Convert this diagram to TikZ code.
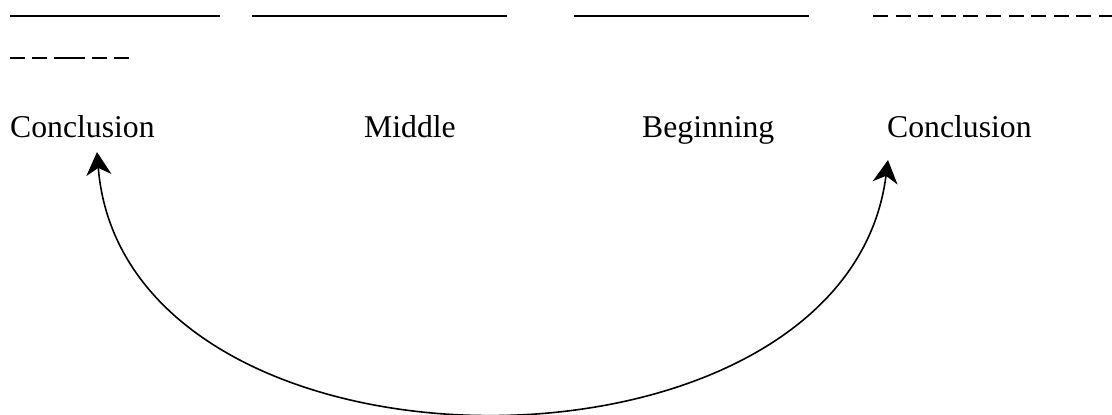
\documentclass[tikz,border=0pt]{standalone}
\usepackage{fontspec}
\setmainfont{Liberation Serif}
\usetikzlibrary{arrows.meta}

\tikzset{
  rule/.style={line width=1.5pt, black},
  label/.style={inner sep=0pt, anchor=base west, font=\fontsize{31.7}{38}\selectfont},
  loop arrow/.style={line width=1.6pt, black,
    {Stealth[length=23pt, width=25pt, inset=7pt]}-{Stealth[length=23pt, width=25pt, inset=7pt]}},
}

\begin{document}
\begin{tikzpicture}[x=1pt, y=-1pt]
  \useasboundingbox (0,0) rectangle (1112,415);

  % blank rules along the top
  \draw[rule] (10,16) -- (220,16);
  \draw[rule] (252,16) -- (507,16);
  \draw[rule] (574,16) -- (809,16);
  \draw[rule, dash pattern=on 15pt off 7.6pt] (873,16) -- (1116,16);
  \draw[rule, dash pattern=on 15pt off 7pt on 15pt off 7pt on 31pt off 7pt on 15pt off 7pt on 15pt off 7pt]
    (10,58) -- (130,58);

  % sequence labels
  \node[label] (concL) at (10,137) {Conclusion};
  \node[label] (mid)   at (364,137) {Middle};
  \node[label] (beg)   at (642,137) {Beginning};
  \node[label] (concR) at (887,137) {Conclusion};

  % loop joining both conclusions
  \coordinate (tipL) at (97,152);
  \coordinate (tipR) at (888,160);
  \draw[loop arrow] (tipL) .. controls (125,497) and (845,497) .. (tipR);
\end{tikzpicture}
\end{document}
